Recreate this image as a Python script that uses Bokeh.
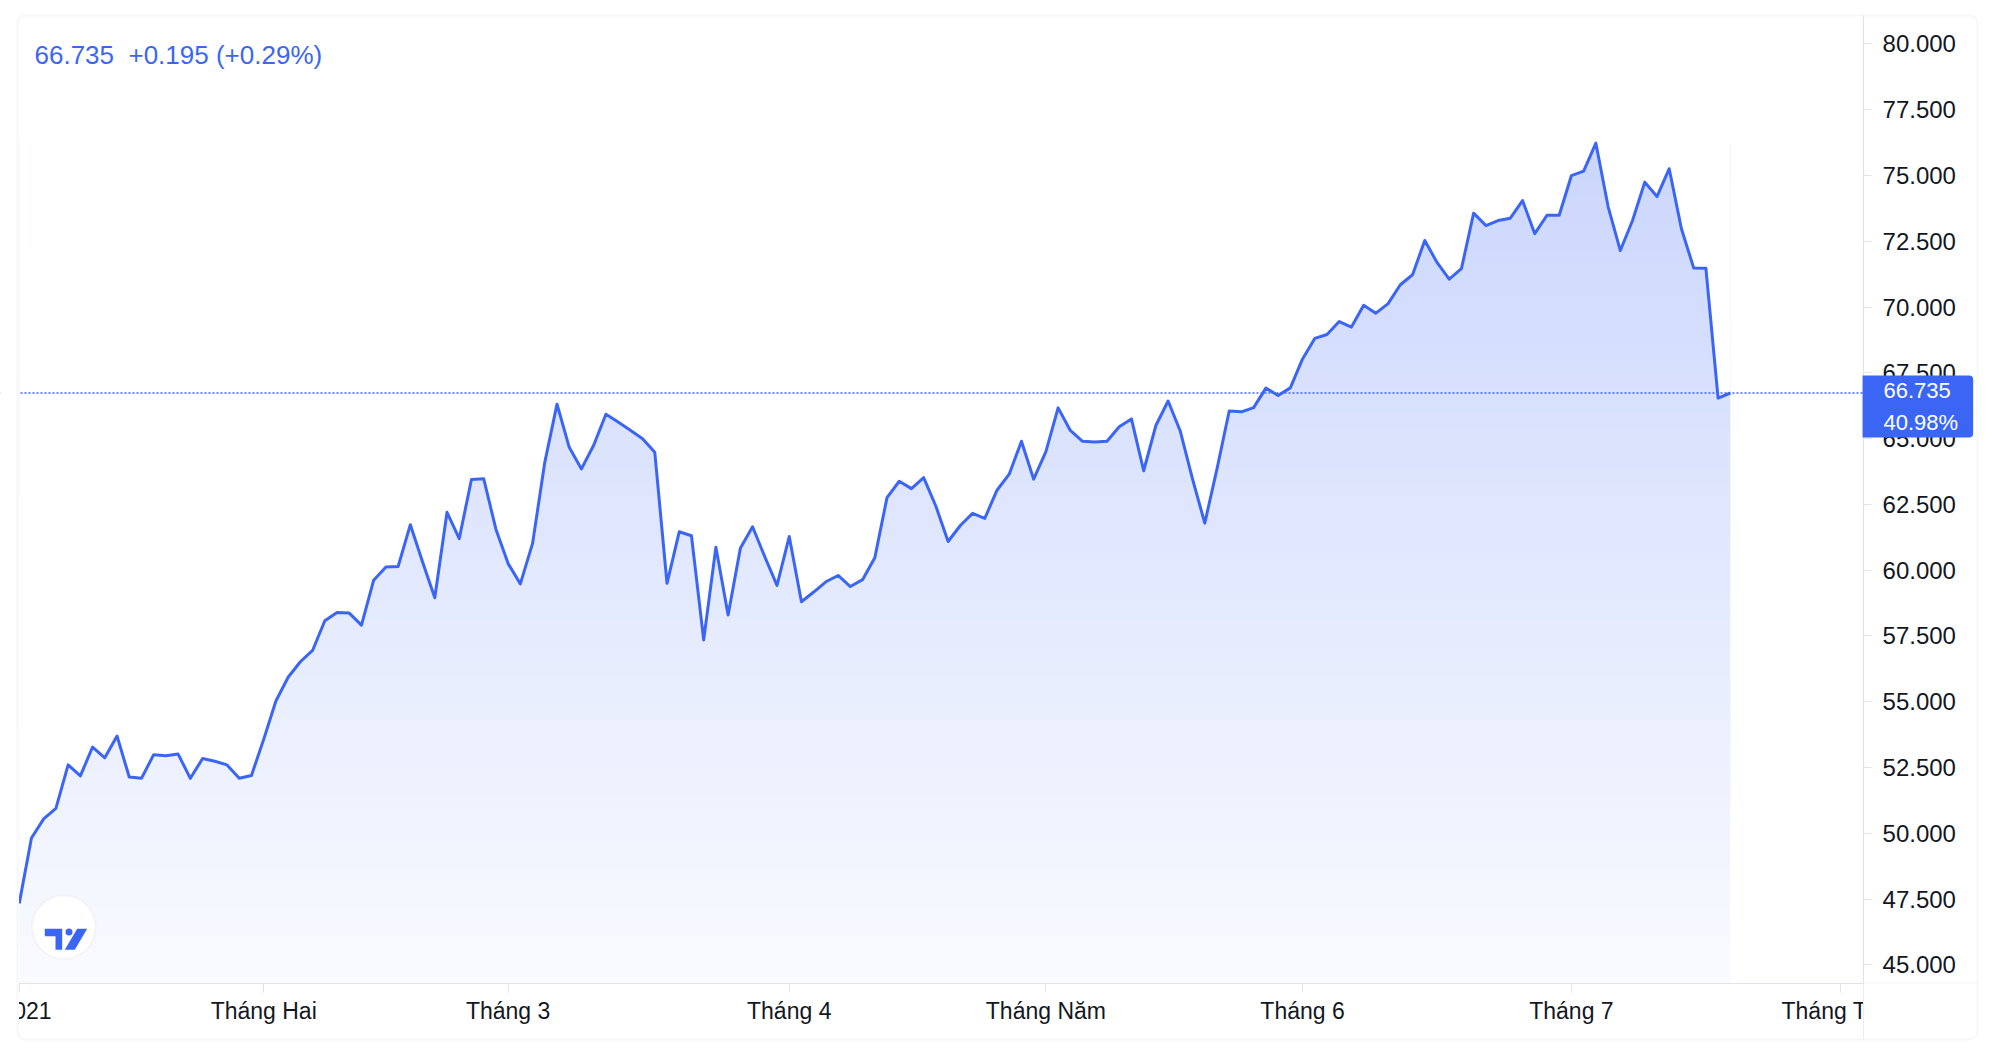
import numpy as np
from bokeh.plotting import figure
from bokeh.models import (FixedTicker, PrintfTickFormatter, Range1d, Label,
                          BoxAnnotation, PolyAnnotation)
from bokeh.embed import file_html
from bokeh.resources import INLINE

# ---------------- data ----------------
values = [
    47.337, 49.82, 50.55, 50.95, 52.60, 52.18, 53.28, 52.87, 53.70, 52.14,
    52.09, 52.99, 52.95, 53.01, 52.09, 52.84, 52.74, 52.60, 52.09, 52.20,
    53.57, 55.03, 55.93, 56.52, 56.95, 58.08, 58.39, 58.37, 57.91, 59.62,
    60.12, 60.14, 61.73, 60.31, 58.95, 62.20, 61.20, 63.45, 63.48, 61.56,
    60.25, 59.48, 61.02, 64.10, 66.31, 64.67, 63.85, 64.75, 65.93, 65.63,
    65.32, 65.00, 64.48, 59.50, 61.46, 61.31, 57.35, 60.87, 58.30, 60.83,
    61.65, 60.51, 59.42, 61.28, 58.80, 59.17, 59.56, 59.80, 59.38, 59.64,
    60.47, 62.76, 63.38, 63.10, 63.52, 62.43, 61.09, 61.70, 62.16, 61.97,
    63.04, 63.65, 64.90, 63.46, 64.51, 66.17, 65.31, 64.90, 64.87, 64.90,
    65.45, 65.75, 63.78, 65.50, 66.43, 65.28, 63.46, 61.79, 63.85, 66.05,
    66.02, 66.18, 66.92, 66.64, 66.93, 68.03, 68.81, 68.96, 69.45, 69.24,
    70.07, 69.77, 70.13, 70.85, 71.23, 72.53, 71.70, 71.06, 71.46, 73.57,
    73.10, 73.29, 73.38, 74.05, 72.79, 73.49, 73.49, 75.00, 75.17, 76.23,
    73.82, 72.15, 73.29, 74.75, 74.20, 75.26, 72.98, 71.49, 71.48, 66.54,
    66.735,
]
month_ticks = [0, 20, 40, 63, 84, 105, 127, 149]
month_labels = ["2021", "Tháng Hai", "Tháng 3", "Tháng 4", "Tháng Năm",
                "Tháng 6", "Tháng 7", "Tháng Tám"]
price_ticks = [45.0, 47.5, 50.0, 52.5, 55.0, 57.5, 60.0, 62.5,
               65.0, 67.5, 70.0, 72.5, 75.0, 77.5, 80.0]

idx = list(range(len(values)))
first, prev, last = values[0], values[-2], values[-1]
change = last - prev
change_pct = change / prev * 100
total_pct = (last / first - 1) * 100

# ---------------- style / geometry ----------------
BLUE = "#3b66f5"
LINEC = "#e0e3eb"
TEXT = "#131722"
FONT = "Liberation Sans"

W, H = 1980, 1041                      # whole chart = plot frame
CARD_L, CARD_T, CARD_R, CARD_B = 17, 15, 1977, 1039   # card edges (px from top-left)
x_start, x_end = -1.5341, 160.47       # bar index range shown
x_scale_pos = 150.90                   # where the price scale begins
y_start, y_end = 42.087, 81.653        # price range shown
y_time_pos = 44.31                     # where the time scale begins

p = figure(width=W, height=H,
           x_range=Range1d(x_start, x_end), y_range=Range1d(y_start, y_end),
           output_backend="svg", toolbar_location=None, y_axis_location="right",
           min_border_left=0, min_border_top=0,
           min_border_right=0, min_border_bottom=0,
           background_fill_color="white", border_fill_color="white")
p.outline_line_color = None
p.xgrid.visible = False
p.ygrid.visible = False

# y axis (price scale, right)
ya = p.yaxis[0]
ya.fixed_location = x_scale_pos
ya.ticker = FixedTicker(ticks=price_ticks)
ya.formatter = PrintfTickFormatter(format="%.3f")
ya.axis_line_color = LINEC
ya.major_tick_line_color = LINEC
ya.major_tick_out = 8
ya.major_tick_in = 0
ya.minor_tick_line_color = None
ya.major_label_standoff = 11
ya.major_label_text_font = FONT
ya.major_label_text_font_size = "24px"
ya.major_label_text_color = TEXT

# x axis (time scale, below)
xa = p.xaxis[0]
xa.fixed_location = y_time_pos
xa.ticker = FixedTicker(ticks=month_ticks)
xa.major_label_overrides = {t: lab for t, lab in zip(month_ticks, month_labels)}
xa.axis_line_color = LINEC
xa.major_tick_line_color = LINEC
xa.major_tick_out = 9
xa.major_tick_in = 0
xa.minor_tick_line_color = None
xa.major_label_standoff = 6
xa.major_label_text_font = FONT
xa.major_label_text_font_size = "23px"
xa.major_label_text_color = TEXT

# gradient fill under the line (image) masked above the line with white
ymax = max(values)
n_rows = 512
alpha = np.linspace(0.03, 0.27, n_rows)
img = np.empty((n_rows, 1), dtype=np.uint32)
view = img.view(dtype=np.uint8).reshape((n_rows, 1, 4))
view[:, 0, 0] = 59
view[:, 0, 1] = 102
view[:, 0, 2] = 245
view[:, 0, 3] = (alpha * 255).astype(np.uint8)
p.image_rgba(image=[img], x=0, y=y_time_pos, dw=len(values) - 1, dh=ymax - y_time_pos)
p.varea(x=idx, y1=values, y2=y_end, fill_color="white", fill_alpha=1.0)

# last price dotted line (up to the price scale)
p.line([x_start, x_scale_pos], [last, last], line_color=BLUE,
       line_width=1.5, line_dash="2 2")

# price line
p.line(idx, values, line_color=BLUE, line_width=3, line_join="round")

# corner under the price scale (hides the overflow of the last month label)
p.add_layout(BoxAnnotation(left=x_scale_pos, right=None, top=y_time_pos, bottom=None,
                           fill_color="white", fill_alpha=1.0,
                           line_color=LINEC, line_width=1))


def screen_box(left, right, bottom, top, **kw):
    return BoxAnnotation(left=left, right=right, bottom=bottom, top=top,
                         left_units="screen", right_units="screen",
                         top_units="screen", bottom_units="screen", **kw)


# page area outside the card stays white
for box in [(0, CARD_L + 1.5, 0, H), (CARD_R, W, 0, H),
            (0, W, H - CARD_T, H), (0, W, 0, H - CARD_B)]:
    p.add_layout(screen_box(*box, fill_color="white", fill_alpha=1.0, line_color=None))

# price tag on the axis
p.add_layout(Label(x=x_scale_pos, y=last, x_units="data", y_units="data",
                   text=f"{last:.3f}\n{total_pct:.2f}%",
                   text_font=FONT, text_font_size="22px", text_color="white",
                   text_align="left", text_baseline="middle", text_line_height=1.245,
                   x_offset=-1, y_offset=-13.5,
                   background_fill_color=BLUE, background_fill_alpha=1.0,
                   padding=dict(left=21, right=15, top=3, bottom=3),
                   border_radius=(0, 4, 4, 0)))

# legend text top-left
p.add_layout(Label(x=34, y=H - 54, x_units="screen", y_units="screen",
                   text=f"{last:.3f}\u00a0\u00a0{change:+.3f} ({change_pct:+.2f}%)",
                   text_font=FONT, text_font_size="26px", text_color=BLUE,
                   text_align="left", text_baseline="alphabetic"))

# logo
p.add_layout(screen_box(31.6, 95, 82.6, 146, fill_color="white", fill_alpha=1.0,
                        line_color="#e3e3e3", line_width=2, border_radius=32))
p.add_layout(PolyAnnotation(xs=[44.3, 61.7, 61.7, 55, 55, 44.3],
                            ys=[112.7, 112.7, 91.7, 91.7, 105.3, 105.3],
                            xs_units="screen", ys_units="screen",
                            fill_color=BLUE, fill_alpha=1.0, line_color=None))
p.add_layout(PolyAnnotation(xs=[76.7, 86.7, 74.3, 64.3],
                            ys=[112.7, 112.7, 91.7, 91.7],
                            xs_units="screen", ys_units="screen",
                            fill_color=BLUE, fill_alpha=1.0, line_color=None))
p.add_layout(screen_box(65, 72, 106, 113, fill_color=BLUE, fill_alpha=1.0,
                        line_color=None, border_radius=4))

# outer rounded card border
p.add_layout(screen_box(CARD_L, CARD_R, H - CARD_B, H - CARD_T,
                        fill_color=None, fill_alpha=0.0,
                        line_color=LINEC, line_width=2, border_radius=8))

open("out.html", "w").write(file_html(p, INLINE))
